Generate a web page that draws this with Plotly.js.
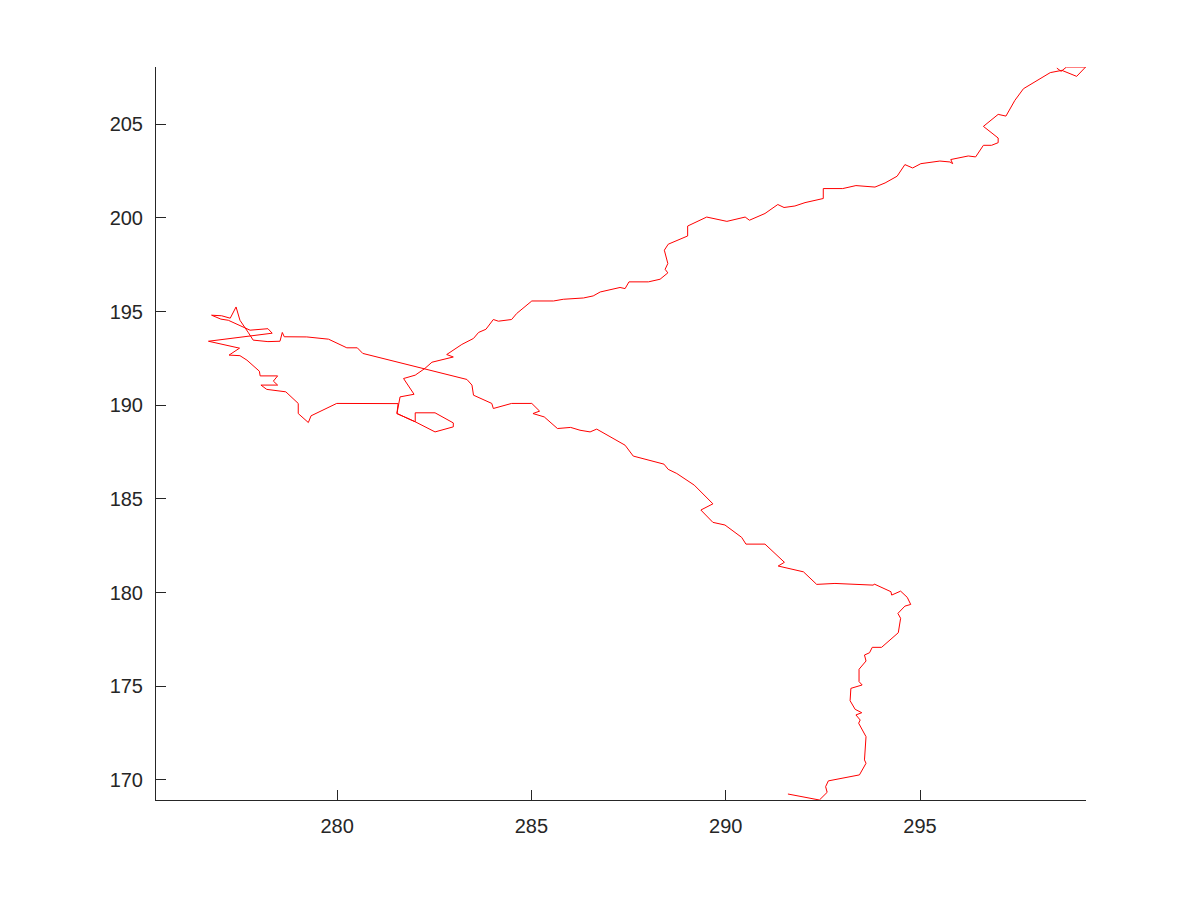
<!DOCTYPE html>
<html>
<head>
<meta charset="utf-8">
<script src="https://cdn.plot.ly/plotly-3.0.1.min.js"></script>
<style>html,body{margin:0;padding:0;background:#fff;}#chart{width:1200px;height:900px;}</style>
</head>
<body>
<div id="chart"></div>
<script>
// Track coordinates (x, y in axis units)
var trackX = [291.60,292.41,292.61,292.57,292.64,293.44,293.61,293.57,293.61,293.42,
  293.46,293.35,293.50,293.33,293.20,293.22,293.51,293.43,293.43,293.61,
  293.57,293.70,293.77,294.01,294.44,294.50,294.43,294.61,294.76,294.67,
  294.50,294.27,294.25,293.82,293.80,292.81,292.34,292.00,291.35,291.51,
  291.01,290.52,290.41,289.98,289.67,289.36,289.67,289.19,288.74,288.52,
  288.41,287.62,287.41,286.68,286.51,286.25,286.01,285.67,285.33,285.04,
  285.21,285.01,284.49,284.02,283.98,283.51,283.47,283.34,280.66,280.52,
  280.25,279.78,279.22,278.79,278.64,278.59,278.53,278.22,277.84,277.71,
  277.50,277.40,277.25,277.03,276.77,277.01,277.20,277.76,278.22,278.33,
  276.69,277.49,277.22,277.50,277.68,278.00,278.02,278.47,278.36,278.47,
  278.04,278.19,278.40,278.68,279.00,279.00,279.26,279.33,279.99,281.57,
  281.54,282.01,282.52,282.99,282.99,282.52,282.01,282.01,281.54,281.62,
  281.98,281.71,282.01,282.26,282.44,282.99,282.82,283.21,283.51,283.64,
  283.83,284.02,284.15,284.49,284.62,285.01,285.57,285.82,286.34,286.59,
  286.77,287.07,287.28,287.41,287.51,288.01,288.31,288.51,288.44,288.51,
  288.42,288.52,289.02,289.02,289.51,290.03,290.50,290.61,291.01,291.34,
  291.50,291.78,292.04,292.51,292.51,293.01,293.35,293.84,294.10,294.41,
  294.61,294.81,295.02,295.51,295.77,295.84,295.79,296.24,296.43,296.63,
  296.84,297.01,297.01,296.63,297.01,297.21,297.44,297.66,298.35,298.65,
  299.03,299.26,298.77,298.63,298.52];
var trackY = [169.25,168.93,169.34,169.64,169.95,170.27,170.89,171.07,172.31,173.03,
  173.20,173.47,173.59,173.77,174.23,174.89,175.07,175.25,175.91,176.35,
  176.67,176.79,177.08,177.08,177.86,178.63,178.89,179.28,179.37,179.75,
  180.08,179.87,180.05,180.46,180.40,180.49,180.44,181.11,181.42,181.62,
  182.59,182.59,182.95,183.61,183.75,184.41,184.74,185.74,186.36,186.58,
  186.86,187.29,187.87,188.73,188.58,188.67,188.82,188.76,189.38,189.56,
  189.69,190.10,190.10,189.83,190.10,190.54,191.08,191.38,192.77,193.07,
  193.07,193.53,193.65,193.65,193.66,193.89,193.42,193.40,193.48,193.90,
  194.54,195.25,194.65,194.78,194.81,194.60,194.54,194.01,194.09,193.85,
  193.42,193.05,192.68,192.65,192.41,191.82,191.57,191.57,191.29,191.08,
  191.08,190.85,190.81,190.72,190.10,189.56,189.08,189.44,190.10,190.09,
  189.56,189.12,188.58,188.85,189.06,189.60,189.60,189.12,189.56,190.45,
  190.59,191.43,191.61,191.97,192.30,192.58,192.71,193.25,193.57,193.89,
  194.06,194.58,194.49,194.58,194.90,195.57,195.57,195.66,195.73,195.84,
  196.05,196.20,196.29,196.23,196.59,196.59,196.73,197.07,197.26,197.57,
  198.28,198.60,199.04,199.57,200.05,199.82,200.05,199.88,200.24,200.72,
  200.56,200.64,200.82,201.04,201.57,201.57,201.73,201.65,201.87,202.23,
  202.85,202.67,202.90,203.04,202.99,202.90,203.12,203.31,203.26,203.88,
  203.88,204.02,204.27,204.89,205.53,205.44,206.28,206.90,207.76,207.88,
  207.56,208.06,208.06,207.83,208.00];
var xTicks = [280, 285, 290, 295];
var yTicks = [170, 175, 180, 185, 190, 195, 200, 205];

var trace = {
  x: trackX, y: trackY, type: 'scatter', mode: 'lines',
  line: {color: '#ff0000', width: 1}, hoverinfo: 'skip'
};
var axisFont = {family: 'Liberation Sans, Arial, sans-serif', size: 20, color: '#262626'};
var layout = {
  width: 1200, height: 900,
  margin: {l: 156, r: 114, t: 67, b: 100, pad: 0},
  paper_bgcolor: '#ffffff', plot_bgcolor: '#ffffff',
  showlegend: false,
  xaxis: {
    range: [275.34, 299.27], tickvals: xTicks, ticktext: xTicks.map(String),
    ticks: 'inside', ticklen: 10, tickwidth: 1, tickcolor: '#262626',
    showline: true, linecolor: '#262626', linewidth: 1, mirror: false,
    showgrid: false, zeroline: false, tickfont: axisFont, ticklabelstandoff: 8
  },
  yaxis: {
    range: [168.93, 208.06], tickvals: yTicks, ticktext: yTicks.map(String),
    ticks: 'inside', ticklen: 10, tickwidth: 1, tickcolor: '#262626',
    showline: true, linecolor: '#262626', linewidth: 1, mirror: false,
    showgrid: false, zeroline: false, tickfont: axisFont, ticklabelstandoff: 8
  }
};
Plotly.newPlot('chart', [trace], layout, {staticPlot: true, displayModeBar: false});
</script>
</body>
</html>
